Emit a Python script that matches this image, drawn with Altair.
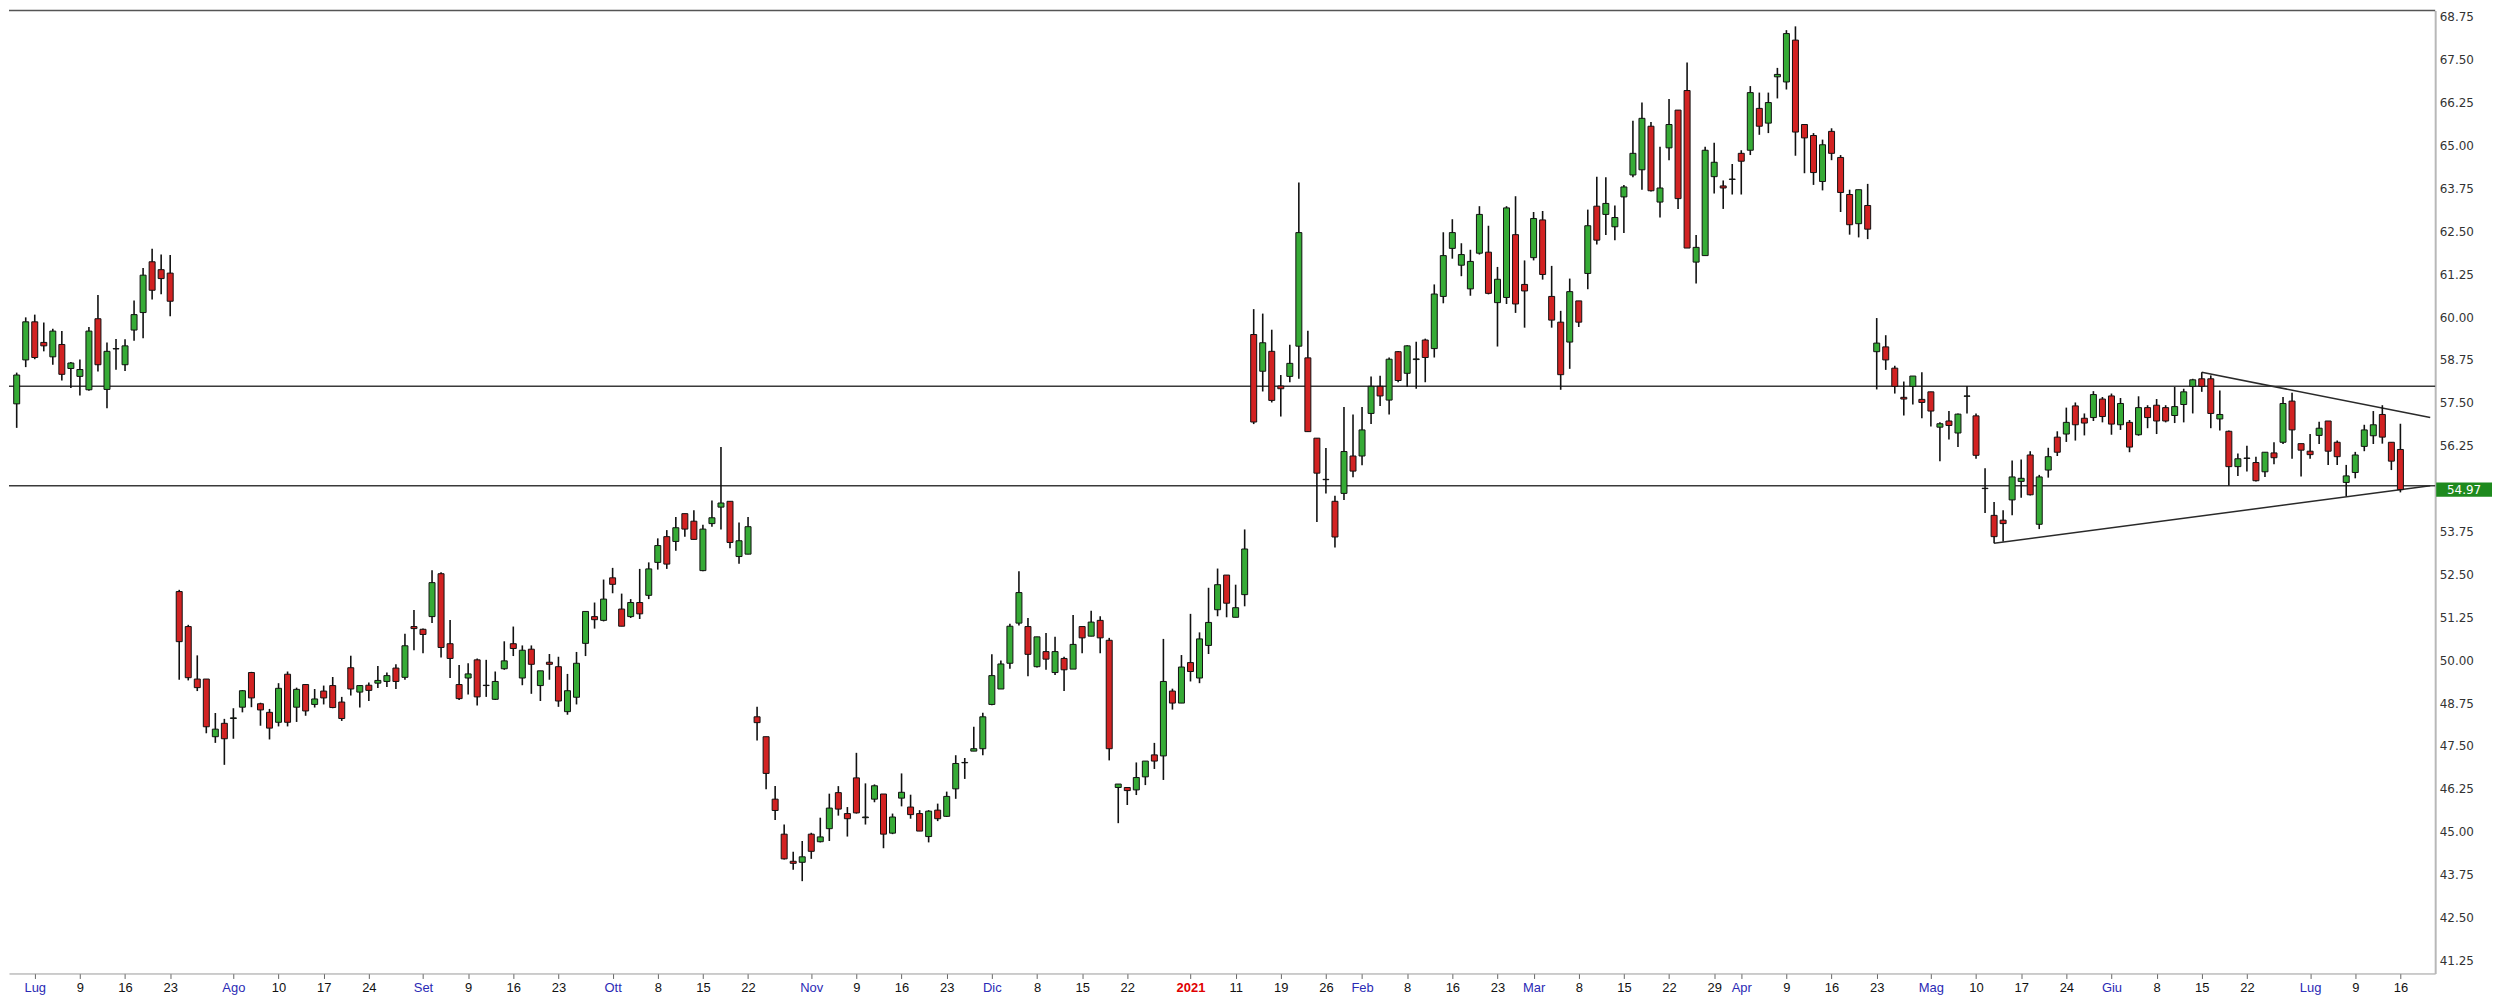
import altair as alt
import pandas as pd

# ---------------- data (daily candles, index 0 = 29 Jun 2020) -------------
opens = [
    57.47, 58.75, 59.86, 59.26, 58.84, 59.20, 58.50, 58.27, 57.88, 59.95,
    57.89, 59.07, 58.61, 59.62, 60.13, 61.61, 61.38, 61.28, 52.00, 50.98,
    49.45, 49.45, 47.77, 48.16, 48.30, 48.63, 49.64, 48.73, 48.48, 48.19,
    49.59, 48.63, 49.29, 48.71, 49.10, 49.26, 48.78, 49.78, 49.07, 49.27,
    49.33, 49.38, 49.77, 49.50, 50.98, 50.90, 51.27, 52.52, 50.48, 49.29,
    49.48, 50.01, 49.26, 48.86, 49.75, 50.48, 49.48, 50.32, 49.26, 49.94,
    49.81, 48.50, 48.92, 50.49, 51.27, 51.16, 52.40, 51.49, 51.27, 51.68,
    51.89, 52.85, 53.60, 53.46, 54.27, 54.05, 52.61, 53.98, 54.46, 54.63,
    53.02, 53.09, 48.35, 47.77, 45.95, 44.93, 44.14, 44.11, 44.93, 44.71,
    45.09, 46.14, 45.53, 46.57, 45.41, 45.95, 46.10, 44.96, 45.98, 45.72,
    45.53, 44.86, 45.63, 45.45, 46.25, 47.01, 47.35, 47.42, 48.71, 49.16,
    49.91, 51.08, 50.98, 49.81, 50.25, 49.64, 50.05, 49.74, 50.98, 50.70,
    51.16, 50.58, 46.29, 46.29, 46.22, 46.60, 47.24, 47.21, 49.10, 48.75,
    49.93, 49.48, 50.43, 51.47, 52.48, 51.25, 51.91, 59.49, 58.42, 59.00,
    57.99, 58.27, 59.15, 58.81, 56.47, 55.27, 54.63, 54.86, 55.95, 55.95,
    57.19, 57.98, 57.58, 58.99, 58.36, 58.76, 59.33, 59.08, 60.60, 62.00,
    61.51, 60.82, 61.86, 61.89, 60.42, 60.57, 62.40, 60.95, 61.73, 62.83,
    60.60, 59.85, 59.27, 60.47, 61.27, 63.23, 62.99, 62.63, 63.50, 64.14,
    64.29, 65.56, 63.35, 64.93, 66.03, 66.60, 61.60, 61.79, 64.09, 63.82,
    64.01, 64.77, 64.86, 66.08, 65.65, 67.00, 66.85, 68.07, 65.61, 65.29,
    63.95, 65.41, 64.65, 63.57, 62.72, 63.25, 58.99, 59.13, 58.51, 57.66,
    57.98, 57.60, 57.82, 56.79, 56.97, 56.62, 57.69, 57.12, 55.01, 54.22,
    54.08, 54.67, 55.21, 55.98, 53.96, 55.54, 56.50, 56.59, 57.41, 57.05,
    57.07, 57.61, 57.70, 56.86, 56.93, 56.57, 57.36, 57.43, 57.36, 57.13,
    57.45, 57.98, 58.20, 58.20, 57.03, 56.67, 55.64, 55.88, 55.76, 55.49,
    56.04, 56.35, 57.55, 56.31, 56.09, 56.55, 56.97, 56.35, 55.18, 55.47,
    56.23, 56.54, 57.16, 56.35, 56.14,
]
highs = [
    58.38, 59.99, 60.07, 59.84, 59.66, 59.59, 58.69, 58.76, 59.71, 60.64,
    59.26, 59.36, 59.35, 60.48, 61.43, 61.99, 61.82, 61.81, 52.05, 51.03,
    50.14, 49.45, 48.46, 48.29, 48.60, 49.13, 49.66, 48.76, 48.58, 49.33,
    49.67, 49.20, 49.30, 49.16, 49.26, 49.51, 48.93, 50.13, 49.28, 49.35,
    49.83, 49.64, 49.88, 50.77, 51.46, 50.92, 52.62, 52.56, 51.17, 49.86,
    49.91, 50.05, 50.01, 49.67, 50.55, 50.98, 50.43, 50.43, 49.69, 50.18,
    50.10, 49.60, 50.24, 51.42, 51.68, 52.35, 52.69, 51.94, 51.78, 52.66,
    52.85, 53.55, 53.79, 54.17, 54.27, 54.37, 53.95, 54.65, 56.21, 54.63,
    54.01, 54.17, 48.64, 47.77, 46.33, 45.21, 44.42, 44.73, 44.97, 45.41,
    46.11, 46.33, 45.72, 47.30, 46.41, 46.38, 46.10, 45.53, 46.70, 46.08,
    45.63, 45.63, 45.82, 46.17, 47.23, 47.15, 48.06, 48.47, 50.17, 49.99,
    51.06, 52.59, 51.23, 50.68, 50.79, 50.68, 50.10, 51.32, 50.98, 51.44,
    51.28, 50.65, 46.39, 46.29, 47.02, 47.06, 47.59, 50.62, 49.17, 50.15,
    51.35, 50.81, 52.11, 52.67, 52.48, 52.20, 53.81, 60.23, 60.10, 59.63,
    58.31, 59.19, 63.92, 59.60, 56.47, 56.18, 54.79, 57.38, 57.16, 57.38,
    58.27, 58.29, 58.82, 59.01, 59.18, 59.28, 59.37, 60.95, 62.47, 62.85,
    62.15, 61.96, 63.23, 62.66, 61.46, 63.23, 63.52, 61.65, 63.06, 63.09,
    61.49, 60.18, 61.12, 60.47, 63.13, 64.09, 64.07, 63.25, 63.85, 65.72,
    66.25, 65.68, 64.96, 66.35, 66.03, 67.42, 62.39, 64.96, 65.08, 63.98,
    64.46, 64.86, 66.73, 66.54, 66.54, 67.26, 68.36, 68.47, 65.61, 65.36,
    65.17, 65.50, 64.72, 63.71, 63.71, 63.88, 59.97, 59.47, 58.58, 58.12,
    58.28, 58.39, 57.82, 56.93, 57.26, 57.19, 57.99, 57.19, 55.59, 54.61,
    54.37, 55.82, 55.85, 56.09, 55.40, 56.19, 56.67, 57.36, 57.51, 57.19,
    57.84, 57.67, 57.77, 57.64, 57.00, 57.69, 57.43, 57.61, 57.43, 57.96,
    57.91, 58.20, 58.39, 58.30, 57.86, 56.69, 56.02, 56.25, 55.93, 56.06,
    56.35, 57.67, 57.79, 56.31, 56.59, 56.95, 56.97, 56.40, 55.69, 56.07,
    56.86, 57.26, 57.43, 56.35, 56.89,
]
lows = [
    56.77, 58.54, 58.77, 59.00, 58.61, 58.15, 57.93, 57.71, 57.85, 58.41,
    57.34, 58.46, 58.43, 59.31, 59.38, 60.51, 60.66, 60.02, 49.43, 49.41,
    49.10, 47.87, 47.59, 46.95, 47.71, 48.48, 48.63, 48.09, 47.69, 48.07,
    48.07, 48.20, 48.38, 48.62, 48.71, 48.60, 48.23, 48.97, 48.62, 48.81,
    49.19, 49.22, 49.16, 49.43, 50.29, 50.20, 51.08, 50.08, 49.48, 48.84,
    49.00, 48.68, 48.93, 48.84, 49.72, 50.12, 49.27, 49.02, 48.81, 49.43,
    48.64, 48.41, 48.71, 50.12, 50.92, 51.13, 51.95, 50.99, 51.23, 51.20,
    51.78, 52.64, 52.66, 53.19, 53.60, 53.52, 52.59, 53.89, 53.81, 53.26,
    52.81, 53.09, 47.66, 46.24, 45.34, 44.19, 43.89, 43.56, 44.21, 44.69,
    44.73, 45.47, 44.86, 45.53, 45.21, 45.86, 44.52, 44.93, 45.74, 45.38,
    45.02, 44.69, 45.31, 45.43, 45.96, 46.54, 47.35, 47.23, 48.69, 49.16,
    49.75, 51.01, 49.53, 49.79, 49.72, 49.57, 49.10, 49.74, 50.20, 50.70,
    50.20, 47.08, 45.25, 45.78, 46.07, 46.36, 46.83, 46.51, 48.56, 48.75,
    49.38, 49.33, 50.18, 51.28, 51.25, 51.25, 51.57, 56.88, 57.83, 57.51,
    57.10, 58.10, 58.20, 56.66, 54.03, 54.86, 53.28, 54.67, 55.33, 55.68,
    56.88, 57.41, 57.16, 58.10, 57.96, 57.91, 58.10, 58.82, 60.40, 61.70,
    61.19, 60.62, 61.82, 60.66, 59.14, 60.38, 60.12, 59.69, 61.65, 61.09,
    59.69, 57.88, 58.49, 59.71, 60.81, 62.11, 62.39, 62.24, 62.45, 64.07,
    63.71, 63.66, 62.90, 64.57, 63.15, 62.01, 60.98, 61.79, 63.60, 63.15,
    63.57, 63.57, 64.72, 65.31, 65.36, 66.37, 66.63, 64.70, 64.19, 63.85,
    63.69, 64.57, 63.06, 62.40, 62.32, 62.27, 57.89, 58.46, 57.77, 57.13,
    57.45, 57.05, 56.81, 55.80, 56.43, 56.21, 57.19, 55.87, 54.29, 53.41,
    53.46, 54.22, 54.73, 54.80, 53.82, 55.32, 55.95, 56.36, 56.40, 56.55,
    56.97, 56.93, 56.57, 56.71, 56.06, 56.54, 56.76, 56.59, 56.93, 56.91,
    56.93, 57.19, 57.82, 56.76, 56.69, 55.08, 55.37, 55.50, 55.21, 55.34,
    55.71, 56.30, 55.87, 55.35, 55.87, 56.30, 55.69, 55.69, 54.78, 55.30,
    56.09, 56.30, 56.31, 55.54, 54.89,
]
closes = [
    58.31, 59.86, 58.82, 59.16, 59.59, 58.33, 58.66, 58.47, 59.59, 58.61,
    59.00, 59.08, 59.16, 60.07, 61.22, 60.78, 61.12, 60.46, 50.54, 49.49,
    49.20, 48.06, 47.99, 47.71, 48.32, 49.11, 48.90, 48.55, 48.02, 49.18,
    48.19, 49.15, 48.52, 48.87, 48.90, 48.62, 48.30, 49.16, 49.26, 49.12,
    49.41, 49.55, 49.38, 50.42, 50.92, 50.75, 52.26, 50.37, 50.05, 48.88,
    49.60, 48.93, 49.27, 49.38, 49.98, 50.34, 50.29, 49.88, 49.69, 49.88,
    48.81, 49.11, 49.91, 51.42, 51.18, 51.78, 52.21, 50.99, 51.68, 51.35,
    52.66, 53.34, 52.80, 53.86, 53.82, 53.52, 53.82, 54.15, 54.58, 53.43,
    53.48, 53.89, 48.18, 46.70, 45.62, 44.21, 44.08, 44.27, 44.43, 44.85,
    45.69, 45.66, 45.38, 45.55, 45.43, 46.34, 44.93, 45.43, 46.15, 45.50,
    45.02, 45.60, 45.38, 46.03, 46.99, 47.02, 47.42, 48.35, 49.55, 49.89,
    50.99, 51.97, 50.17, 50.68, 50.03, 50.25, 49.72, 50.46, 50.65, 51.11,
    50.65, 47.42, 46.39, 46.20, 46.58, 47.06, 47.06, 49.38, 48.75, 49.80,
    49.67, 50.62, 51.10, 52.20, 51.66, 51.53, 53.24, 56.94, 59.25, 57.57,
    57.91, 58.65, 62.46, 56.66, 55.45, 55.26, 53.59, 56.08, 55.51, 56.71,
    57.98, 57.70, 58.77, 58.15, 59.16, 58.78, 58.82, 60.67, 61.79, 62.46,
    61.82, 61.62, 62.99, 60.69, 61.10, 63.18, 60.38, 60.76, 62.87, 61.24,
    59.91, 58.32, 60.74, 59.85, 62.66, 62.24, 63.31, 62.90, 63.79, 64.77,
    65.79, 63.68, 63.76, 65.61, 63.45, 62.01, 62.03, 64.86, 64.51, 63.76,
    64.02, 64.54, 66.54, 65.56, 66.25, 67.07, 68.26, 65.39, 65.22, 64.21,
    65.02, 64.77, 63.63, 62.69, 63.71, 62.56, 59.24, 58.75, 57.98, 57.61,
    58.28, 57.51, 57.26, 56.89, 56.84, 57.17, 57.70, 55.97, 55.00, 53.60,
    53.98, 55.34, 55.30, 54.82, 55.34, 55.93, 56.06, 56.93, 56.86, 56.91,
    57.74, 57.10, 56.88, 57.48, 56.21, 57.36, 57.07, 56.97, 56.97, 57.39,
    57.82, 58.17, 57.98, 57.19, 57.16, 55.64, 55.87, 55.89, 55.23, 56.06,
    55.90, 57.48, 56.71, 56.12, 55.99, 56.76, 56.09, 55.93, 55.37, 55.98,
    56.71, 56.86, 56.50, 55.80, 54.97,
]

# x-axis ticks (candle index) and their labels
tick_idx = [2, 7, 12, 17, 24, 29, 34, 39, 45, 50, 55, 60, 66, 71, 76, 81,
            88, 93, 98, 103, 108, 113, 118, 123, 130, 135, 140, 145, 149, 154,
            159, 164, 168, 173, 178, 183, 188, 191, 196, 201, 206, 212, 217,
            222, 227, 232, 237, 242, 247, 254, 259, 264]
tick_lab = ["Lug", "9", "16", "23", "Ago", "10", "17", "24", "Set", "9", "16", "23",
            "Ott", "8", "15", "22", "Nov", "9", "16", "23", "Dic", "8", "15", "22",
            "2021", "11", "19", "26", "Feb", "8", "16", "23", "Mar", "8", "15", "22",
            "29", "Apr", "9", "16", "23", "Mag", "10", "17", "24", "Giu", "8", "15",
            "22", "Lug", "9", "16"]
month_idx = [2, 24, 45, 66, 88, 108, 149, 168, 191, 212, 232, 254]
year_idx = [130]

# right price axis labels (55.00 is replaced by the last-price box)
y_ticks = [41.25, 42.50, 43.75, 45.00, 46.25, 47.50, 48.75, 50.00, 51.25, 52.50,
           53.75, 56.25, 57.50, 58.75, 60.00, 61.25, 62.50, 63.75, 65.00,
           66.25, 67.50, 68.75]

# horizontal support / resistance levels and triangle trend lines
levels = [57.98, 55.08]
trend_id = ["upper", "upper", "lower", "lower"]
trend_x = [242, 267.3, 219, 267.3]
trend_y = [58.39, 57.07, 53.41, 55.08]
last_price = 54.97

# ---------------- chart ----------------
W, H = 2434, 966
GREEN, RED = "#36ab36", "#d22222"

n = len(opens)
df = pd.DataFrame({"i": list(range(n)), "o": opens, "h": highs, "l": lows, "c": closes})
df["dir"] = ["up" if c >= o else "down" for o, c in zip(opens, closes)]

xs = alt.Scale(domain=[-0.3, 267.3], nice=False, zero=False)
ys = alt.Scale(domain=[40.87, 68.93], nice=False, zero=False)

lab_expr = ("[" + ",".join("'%s'" % t for t in tick_lab) + "][indexof(["
            + ",".join(str(v) for v in tick_idx) + "], datum.value)]")
month_test = "indexof([" + ",".join(str(v) for v in month_idx) + "], datum.value) >= 0"
year_test = "indexof([" + ",".join(str(v) for v in year_idx) + "], datum.value) >= 0"

x_axis = alt.Axis(
    values=tick_idx, labelExpr=lab_expr, title=None, grid=False,
    domainColor="#9a9a9a", domainWidth=1, tickColor="#666666", tickSize=5,
    labelFont="Liberation Sans", labelFontSize=13, labelPadding=3,
    labelOverlap=False, labelFlush=False,
    labelColor={"condition": [{"test": year_test, "value": "#e00000"},
                              {"test": month_test, "value": "#2a2ab5"}],
                "value": "#111111"},
    labelFontWeight={"condition": {"test": year_test, "value": "bold"}, "value": "normal"},
)
y_axis = alt.Axis(
    orient="right", values=y_ticks, format=".2f", title=None, grid=False,
    ticks=False, domainColor="#b8b8b8", domainWidth=2, labelFont="DejaVu Sans",
    labelFontSize=12, labelColor="#333333", labelPadding=4, labelOverlap=False,
)


def X(f):
    return alt.X(f, type="quantitative", scale=xs, axis=x_axis)


def Y(f):
    return alt.Y(f, type="quantitative", scale=ys, axis=y_axis)


top_border = alt.Chart(pd.DataFrame({"a": [0]})).mark_rule(
    color="#555555", strokeWidth=1.5
).encode(x=alt.value(0), x2=alt.value(W), y=alt.value(0))

level_lines = alt.Chart(pd.DataFrame({"lvl": levels})).mark_rule(
    color="#3a3a3a", strokeWidth=1.5
).encode(y=Y("lvl"))

trend = alt.Chart(pd.DataFrame({"id": trend_id, "x": trend_x, "y": trend_y})).mark_line(
    color="#2a2a2a", strokeWidth=1.5
).encode(x=X("x"), y=Y("y"), detail="id:N")

wicks = alt.Chart(df).mark_rule(color="#111111", strokeWidth=1.6).encode(
    x=X("i"), y=Y("l"), y2="h"
)

bodies = alt.Chart(df).mark_bar(width=6, stroke="#111111", strokeWidth=1).encode(
    x=X("i"), y=Y("o"), y2="c",
    color=alt.Color("dir:N", scale=alt.Scale(domain=["up", "down"], range=[GREEN, RED]),
                    legend=None),
)

lbl = pd.DataFrame({"p": [last_price], "lo": [last_price - 0.21],
                    "hi": [last_price + 0.21], "t": ["%.2f" % last_price]})
lbl_box = alt.Chart(lbl).mark_rect(color="#1e8a1e").encode(
    x=alt.value(W + 1), x2=alt.value(W + 57), y=Y("lo"), y2="hi"
)
lbl_txt = alt.Chart(lbl).mark_text(
    color="white", fontSize=12, font="DejaVu Sans", align="center", baseline="middle"
).encode(x=alt.value(W + 29), y=Y("p"), text="t:N")

chart = alt.layer(
    top_border, level_lines, trend, wicks, bodies, lbl_box, lbl_txt
).properties(
    width=W, height=H, padding={"left": 0, "top": 0, "right": 0, "bottom": 0}
).configure(background="white").configure_view(stroke=None)

chart.save("out.html", embed_options={"renderer": "svg", "actions": False})
